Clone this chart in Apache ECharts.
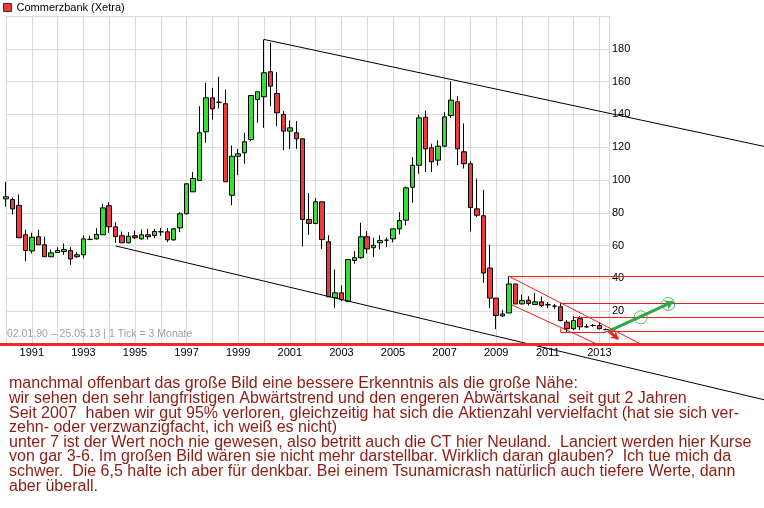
<!DOCTYPE html>
<html><head><meta charset="utf-8">
<script src="https://cdn.jsdelivr.net/npm/echarts@6/dist/echarts.min.js"></script>
<style>html,body{margin:0;padding:0;background:#fff}#c{width:764px;height:508px}</style>
</head><body><div id="c"></div>
<script>
// quarter start dates (decimal years)
const quarterStarts = [
1990.00,1990.25,1990.50,1990.75,1991.00,1991.25,1991.50,1991.75,1992.00,1992.25,1992.50,1992.75,
1993.00,1993.25,1993.50,1993.75,1994.00,1994.25,1994.50,1994.75,1995.00,1995.25,1995.50,1995.75,
1996.00,1996.25,1996.50,1996.75,1997.00,1997.25,1997.50,1997.75,1998.00,1998.25,1998.50,1998.75,
1999.00,1999.25,1999.50,1999.75,2000.00,2000.25,2000.50,2000.75,2001.00,2001.25,2001.50,2001.75,
2002.00,2002.25,2002.50,2002.75,2003.00,2003.25,2003.50,2003.75,2004.00,2004.25,2004.50,2004.75,
2005.00,2005.25,2005.50,2005.75,2006.00,2006.25,2006.50,2006.75,2007.00,2007.25,2007.50,2007.75,
2008.00,2008.25,2008.50,2008.75,2009.00,2009.25,2009.50,2009.75,2010.00,2010.25,2010.50,2010.75,
2011.00,2011.25,2011.50,2011.75,2012.00,2012.25,2012.50,2012.75,2013.00,2013.25];
const openVals = [
88.5,88.1,84.5,66.6,56.8,65.4,60.5,53.2,55.8,56.4,57.0,53.2,
54.4,63.8,64.1,66.6,84.3,71.5,66.0,61.7,66.0,64.1,66.6,66.2,
68.4,68.4,63.5,70.8,79.4,92.8,99.7,129.4,150.1,147.4,146.5,90.7,
114.5,116.6,124.7,149.1,150.7,166.0,152.7,139.9,129.8,128.8,125.1,75.9,
73.5,86.7,62.3,28.2,31.2,26.1,50.9,52.6,65.4,58.7,61.7,63.3,
64.1,70.2,75.5,95.6,109.0,138.3,119.6,112.1,120.6,139.3,147.7,117.2,
109.9,82.4,78.2,46.3,28.0,17.1,18.9,36.6,24.5,26.7,24.1,25.7,
23.9,23.1,22.7,13.3,9.3,15.4,10.5,11.3,11.3,8.8];
const closeVals = [
89.8,82.4,64.8,57.0,65.1,60.5,53.2,55.6,57.0,57.6,51.9,54.4,
64.1,63.8,66.8,83.0,71.5,65.5,61.7,65.7,64.8,66.6,65.4,68.6,
68.4,63.5,70.2,79.4,97.7,100.9,128.8,150.1,143.4,147.4,98.9,114.5,
116.0,123.3,151.5,153.8,165.4,157.2,141.0,129.8,131.8,125.1,75.9,73.5,
86.7,63.7,28.8,31.2,27.1,51.5,52.6,65.4,58.0,60.2,63.1,63.3,
70.2,75.3,95.2,109.0,137.9,119.0,111.1,120.6,138.5,148.7,119.0,109.9,
83.2,78.5,43.3,28.0,17.4,18.3,36.6,24.4,26.5,24.7,25.7,23.5,
23.9,23.1,14.3,9.3,14.3,10.5,10.5,11.3,9.3,8.8];
const lowVals = [
83.7,79.0,64.8,50.5,55.2,60.5,53.2,53.0,55.8,54.4,48.3,52.6,
52.3,63.3,63.7,66.6,67.8,61.7,61.7,61.3,64.0,63.7,63.7,64.5,
66.0,62.1,63.0,68.2,79.0,92.8,99.7,122.7,136.9,143.6,98.9,84.6,
102.9,109.9,123.7,134.9,131.8,145.0,132.8,118.2,119.0,119.0,59.5,66.5,
73.0,58.0,28.8,22.1,26.1,25.5,48.9,52.0,55.2,53.2,57.6,59.0,
62.0,66.8,72.3,86.1,103.8,105.0,104.8,108.8,120.0,137.9,109.0,107.0,
68.6,77.3,37.3,21.9,9.1,16.5,18.9,24.4,24.0,23.5,23.8,22.5,
21.9,21.5,13.8,7.1,8.5,8.6,9.8,10.5,9.0,8.5];
const highVals = [
98.9,89.3,91.2,69.6,67.8,69.6,65.4,57.6,59.0,61.3,59.0,56.0,
66.2,66.0,70.6,85.5,86.5,74.3,68.6,68.2,69.2,69.8,70.2,70.2,
70.8,70.8,70.8,80.4,98.0,105.0,145.0,159.3,156.2,162.9,155.2,121.0,
119.0,128.8,151.5,153.8,185.7,183.7,165.7,142.0,136.3,135.9,125.1,92.0,
89.0,86.7,66.3,45.4,35.7,51.5,56.6,73.9,68.8,64.8,66.2,64.8,
70.2,80.4,96.0,113.9,139.9,142.4,122.1,124.1,141.3,160.2,151.1,134.5,
111.5,100.9,94.0,60.6,28.0,20.9,41.3,36.6,30.2,29.1,31.2,29.0,
25.6,24.5,25.1,14.5,17.0,17.0,12.0,12.2,13.1,9.5];

const seriesName = 'Commerzbank (Xetra)';
const yTicks = [20,40,60,80,100,120,140,160,180];

// annotation lines [year, price]
const longTrendUpper = [[2000.0,185.7],[2019.38,120.5]];
const longTrendLower = [[1994.25,59.8],[2019.38,-34.0]];
const channelUpper = [[2009.51,41.16],[2014.6,0]];
const channelLower = [[2009.6,23.9],[2012.9,0]];
const level41 = [[2009.5,41.16],[2019.4,41.16]];
const level25 = [[2011.5,24.70],[2019.4,24.70]];
const level16 = [[2012.0,16.16],[2019.4,16.16]];
const level7 = [[2011.5,9.5],[2011.5,7.01],[2013.22,7.01],[2013.22,7.62],[2019.4,7.62]];
const greenArrow = [[2013.41,8.1],[2015.86,25.8]];
const greenCircles = [[2014.6,16.3],[2015.67,24.4]];
const redArrow = [[2013.34,8.2],[2013.73,3.0]];
const baseLine = [[1989.7,0],[2019.6,0]];

const commentLines = [
'manchmal offenbart das große Bild eine bessere Erkenntnis als die große Nähe:',
'wir sehen den sehr langfristigen Abwärtstrend und den engeren Abwärtskanal  seit gut 2 Jahren',
'Seit 2007  haben wir gut 95% verloren, gleichzeitig hat sich die Aktienzahl vervielfacht (hat sie sich ver-',
'zehn- oder verzwanzigfacht, ich weiß es nicht)',
'unter 7 ist der Wert noch nie gewesen, also betritt auch die CT hier Neuland.  Lanciert werden hier Kurse',
'von gar 3-6. Im großen Bild wären sie nicht mehr darstellbar. Wirklich daran glauben?  Ich tue mich da',
'schwer.  Die 6,5 halte ich aber für denkbar. Bei einem Tsunamicrash natürlich auch tiefere Werte, dann',
'aber überall.'];
const rangeText = '02.01.90 – 25.05.13 | 1 Tick = 3 Monate';

const FONT = '"Liberation Sans", Arial, sans-serif';
const candleData = quarterStarts.map((x,i)=>[x, openVals[i], closeVals[i], lowVals[i], highVals[i]]);

function linesSeries(coords, color, width, extra) {
  return Object.assign({type:'lines', coordinateSystem:'cartesian2d', clip:false, silent:true,
    polyline: coords.length > 2, z:3,
    lineStyle:{color:color, width:width, opacity:1},
    data:[{coords:coords}]}, extra || {});
}

const chart = echarts.init(document.getElementById('c'), null, {renderer:'canvas'});
chart.setOption({
  animation:false,
  backgroundColor:'#fff',
  legend:{left:3, top:2, padding:0, itemWidth:8, itemHeight:8, icon:'rect', selectedMode:false,
    textStyle:{fontSize:11, color:'#000', fontFamily:FONT},
    data:[{name:seriesName, itemStyle:{color:'#f03a3a', borderColor:'#333', borderWidth:1}}]},
  grid:{left:6, right:155, top:16, bottom:164, containLabel:false},
  xAxis:{type:'value', min:1990, max:2013.372, interval:1,
    axisLine:{show:false}, axisTick:{show:false},
    axisLabel:{margin:3, fontSize:11, color:'#000', fontFamily:FONT,
      formatter:v=> (Math.round(v)%2===1 ? String(Math.round(v)) : '')},
    splitLine:{show:true, lineStyle:{color:'#dadada', width:1}}},
  yAxis:{type:'value', position:'right', min:0, max:200, interval:20,
    axisLine:{show:true, lineStyle:{color:'#dadada'}}, axisTick:{show:false},
    axisLabel:{margin:3, fontSize:11, color:'#000', fontFamily:FONT,
      formatter:v=> (yTicks.indexOf(v)>=0 ? String(v) : '')},
    splitLine:{show:true, lineStyle:{color:'#dadada', width:1}}},
  graphic:[
    {type:'text', left:9, top:376, z:10, style:{text:commentLines.join('\n'), fill:'#8b1c13',
      font:'16px "Liberation Sans", Arial, sans-serif', lineHeight:14.6}},
    {type:'text', left:7, top:329, z:10, style:{text:rangeText, fill:'#a0a0a0',
      font:'10.5px "Liberation Sans", Arial, sans-serif'}}
  ],
  series:[
    {name:seriesName, type:'candlestick', data:candleData, barWidth:5, clip:false, z:2,
      itemStyle:{color:'#33e033', color0:'#f03a3a', borderColor:'#000', borderColor0:'#000',
        borderColorDoji:'#000', borderWidth:1}},
    linesSeries(longTrendUpper,'#000000',1),
    linesSeries(longTrendLower,'#000000',1),
    linesSeries(channelUpper,'#ee1c1c',1),
    linesSeries(channelLower,'#ee1c1c',1),
    linesSeries(level41,'#ee1c1c',1),
    linesSeries(level25,'#ee1c1c',1),
    linesSeries(level16,'#ee1c1c',1),
    linesSeries(level7,'#ee1c1c',1),
    linesSeries(baseLine,'#ee2a2a',3),
    linesSeries(greenArrow,'#30a848',3,{symbol:['none','arrow'], symbolSize:8, z:4}),
    linesSeries(redArrow,'#ee2222',3,{symbol:['none','arrow'], symbolSize:7, z:4}),
    {type:'scatter', data:greenCircles, symbol:'circle', symbolSize:13, clip:false, silent:true, z:5,
      itemStyle:{color:'rgba(0,0,0,0)', borderColor:'#30a848', borderWidth:1}}
  ]
});
</script></body></html>
